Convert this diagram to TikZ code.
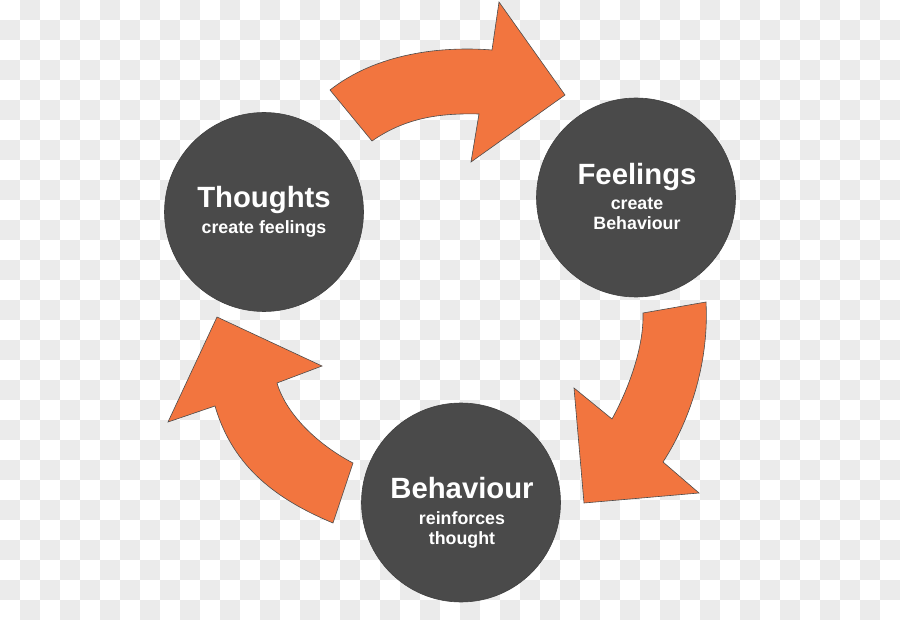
\documentclass[tikz,border=0pt]{standalone}
\usepackage{fontspec}
\setmainfont{Liberation Sans}
\usetikzlibrary{positioning}
\definecolor{cycleorange}{HTML}{F2753F}
\definecolor{circlegray}{HTML}{4A4A4A}
\definecolor{checkgray}{HTML}{EBEBEB}

\begin{document}
\begin{tikzpicture}[
    x=1pt, y=-1pt,
    bubble/.style={circle, draw=black!75, fill=circlegray, minimum size=199pt, inner sep=0pt, line width=0.6pt},
    title/.style={text=white, font=\fontsize{29.3}{32}\selectfont\bfseries, anchor=base, inner sep=0pt},
    caption/.style={text=white, font=\fontsize{17.8}{20}\selectfont\bfseries, anchor=base, inner sep=0pt},
    blockarrow/.style={draw=black!70, fill=cycleorange, line width=0.6pt, line join=miter}
]
\useasboundingbox (0,0) rectangle (900,620);
\fill[white] (0,0) rectangle (900,620);
\foreach \j in {0,2,...,30} \foreach \i in {1,3,...,43} \fill[checkgray] (\i*20,\j*20) rectangle +(20,20);
\foreach \j in {1,3,...,29} \foreach \i in {0,2,...,44} \fill[checkgray] (\i*20,\j*20) rectangle +(20,20);

\draw[blockarrow] (330,90) .. controls (377,53) and (442,46) .. (492,50) -- (499,2) -- (565,95) -- (471,162) -- (479,114) .. controls (439,113) and (405,118) .. (372,141) -- cycle;
\draw[blockarrow] (706,302) .. controls (709,357) and (693,416) .. (663,462) -- (699,493) -- (584,503) -- (574,388) -- (612,419) .. controls (628,390) and (644,348) .. (643,313) -- cycle;
\draw[blockarrow] (333,523) .. controls (278,500) and (233,468) .. (215,406) -- (168,422) -- (217,317) -- (322,366) -- (277,383) .. controls (287,417) and (322,447) .. (353,463) -- cycle;

\node[bubble] (thoughts) at (264,212) {};
\node[bubble] (feelings) at (636,197.5) {};
\node[bubble] (behaviour) at (461,502.5) {};

\node[title] (thoughtsT) at (264,207.3) {Thoughts};
\node[caption] (thoughtsC) at (264,233.3) {create feelings};

\node[title] (feelingsT) at (637,184.3) {Feelings};
\node[caption] (feelingsC1) at (637,209.3) {create};
\node[caption] (feelingsC2) at (637,230) {Behaviour};

\node[title] (behaviourT) at (462,498.7) {Behaviour};
\node[caption] (behaviourC1) at (462,524) {reinforces};
\node[caption] (behaviourC2) at (462,544) {thought};
\end{tikzpicture}
\end{document}
